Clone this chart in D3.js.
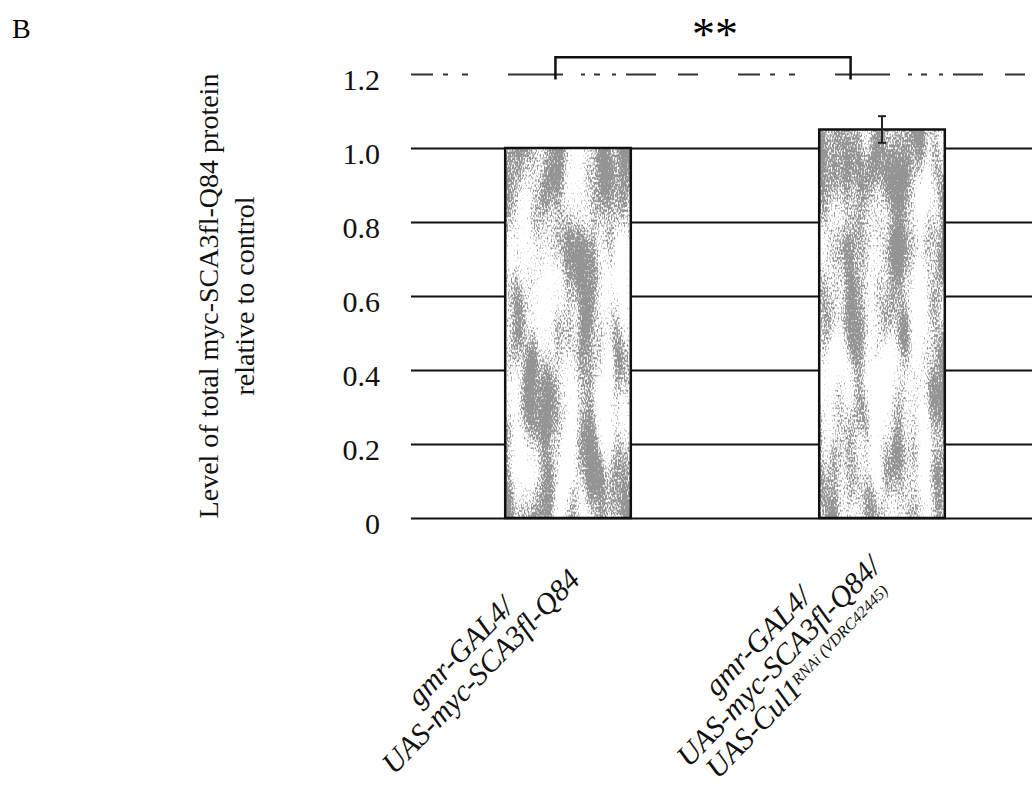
<!DOCTYPE html>
<html>
<head>
<meta charset="utf-8">
<script src="https://cdn.jsdelivr.net/npm/d3@7"></script>
<style>
  body { margin: 0; background: #fff; }
  svg { display: block; font-family: "Liberation Serif", "DejaVu Serif", serif; }
</style>
</head>
<body>
<svg id="chart" width="1032" height="805"></svg>
<script>
// --- Data ---
const categories = ["control", "cul1RNAi"];
const values = [1.0, 1.05];
const errors = [0, 0.036];
const yTicks = [0, 0.2, 0.4, 0.6, 0.8, 1.0, 1.2];
const labelLines = [
    ["gmr-GAL4/", "UAS-myc-SCA3fl-Q84"],
    ["gmr-GAL4/", "UAS-myc-SCA3fl-Q84/", "UAS-Cul1"]
];
const labelSupers = [
    [null, null],
    [null, null, "RNAi (VDRC42445)"]
];
const yTitle = ["Level of total myc-SCA3fl-Q84 protein", "relative to control"];
const sigPair = ["control", "cul1RNAi"];
const sigText = "**";

// --- Layout ---
const svg = d3.select("#chart");
const plotLeft = 411, plotRight = 1039;
const y = d3.scaleLinear().domain([0, 1.2]).range([518, 74]);
const x = d3.scaleBand().domain(categories).range([plotLeft, plotRight])
    .paddingInner(0.6).paddingOuter(0.3);

// speckled grey fill (scanned look)
const defs = svg.append("defs");
const f = defs.append("filter").attr("id", "speckle")
    .attr("x", 0).attr("y", 0).attr("width", "100%").attr("height", "100%")
    .attr("color-interpolation-filters", "sRGB");
f.append("feTurbulence").attr("type", "fractalNoise").attr("baseFrequency", "0.045 0.009")
    .attr("numOctaves", 2).attr("seed", 11).attr("result", "coarse");
f.append("feTurbulence").attr("type", "fractalNoise").attr("baseFrequency", "0.7 0.4")
    .attr("numOctaves", 1).attr("seed", 3).attr("result", "fine");
f.append("feComposite").attr("in", "coarse").attr("in2", "fine").attr("operator", "arithmetic")
    .attr("k1", 0).attr("k2", 0.7).attr("k3", 0.5).attr("k4", 0).attr("result", "mix");
f.append("feColorMatrix").attr("in", "mix").attr("type", "matrix")
    .attr("values", "0 0 0 0 0.58  0 0 0 0 0.58  0 0 0 0 0.58  0 0 0 -9 5.6");
f.append("feComposite").attr("in2", "SourceGraphic").attr("operator", "in");

// Panel letter
svg.append("text").attr("x", 12).attr("y", 38).style("font-size", "28px").text("B");

// Grid
const grid = svg.append("g").attr("transform", `translate(${plotLeft},0)`)
    .call(d3.axisLeft(y).tickValues(yTicks).tickSize(-(1032 - plotLeft)).tickFormat(""));
grid.select(".domain").remove();
grid.selectAll(".tick line").attr("stroke", "#111").attr("stroke-width", 2);
grid.selectAll(".tick").filter(d => d === 1.2).select("line")
    .attr("stroke", "#333").attr("stroke-width", 2)
    .attr("stroke-dasharray", "22,10,5,14,6,40,55,18,4,9,6,12,4,10,30,22,20,40");

// Tick labels
const yAxis = svg.append("g").attr("transform", `translate(${plotLeft},0)`)
    .call(d3.axisLeft(y).tickValues(yTicks).tickSize(0).tickPadding(31)
        .tickFormat(d => d === 0 ? "0" : d.toFixed(1)));
yAxis.select(".domain").remove();
yAxis.selectAll("text").style("font-size", "30px").style("font-family", "Liberation Serif, serif")
    .attr("fill", "#111").attr("dy", "0.5em");

// Y title
const yt = svg.append("text").attr("transform", "translate(218,296) rotate(-90)")
    .attr("text-anchor", "middle").style("font-size", "28px").attr("fill", "#111");
yt.selectAll("tspan").data(yTitle).enter().append("tspan")
    .attr("x", 0).attr("dy", (d, i) => i === 0 ? 0 : 36).text(d => d);

// Bars
const bars = svg.append("g");
bars.selectAll(".bg").data(categories).enter().append("rect")
    .attr("x", d => x(d)).attr("y", (d, i) => y(values[i]))
    .attr("width", x.bandwidth()).attr("height", (d, i) => y(0) - y(values[i]))
    .attr("fill", "#fff");
bars.selectAll(".sp").data(categories).enter().append("rect")
    .attr("x", d => x(d)).attr("y", (d, i) => y(values[i]))
    .attr("width", x.bandwidth()).attr("height", (d, i) => y(0) - y(values[i]))
    .attr("fill", "#000").attr("filter", "url(#speckle)");
bars.selectAll(".ol").data(categories).enter().append("rect")
    .attr("x", d => x(d)).attr("y", (d, i) => y(values[i]))
    .attr("width", x.bandwidth()).attr("height", (d, i) => y(0) - y(values[i]))
    .attr("fill", "none").attr("stroke", "#111").attr("stroke-width", 2.5);

// Error bars
const eb = svg.append("g").attr("stroke", "#222").attr("stroke-width", 2);
categories.forEach((c, i) => {
    if (!errors[i]) return;
    const cx = x(c) + x.bandwidth() / 2;
    eb.append("line").attr("x1", cx).attr("x2", cx)
        .attr("y1", y(values[i] - errors[i])).attr("y2", y(values[i] + errors[i]));
    [values[i] - errors[i], values[i] + errors[i]].forEach(v => {
        eb.append("line").attr("x1", cx - 4).attr("x2", cx + 4).attr("y1", y(v)).attr("y2", y(v));
    });
});

// Significance bracket
const bx1 = x(sigPair[0]) + x.bandwidth() * 0.4;
const bx2 = x(sigPair[1]) + x.bandwidth() * 0.25;
svg.append("path")
    .attr("d", `M${bx1},${y(1.185)}V${y(1.245)}H${bx2}V${y(1.185)}`)
    .attr("fill", "none").attr("stroke", "#111").attr("stroke-width", 2.5);
svg.append("text").attr("x", (bx1 + bx2) / 2 + 12).attr("y", 50)
    .attr("text-anchor", "middle").style("font-size", "46px").text(sigText);

// Category labels
const lh = 29;
categories.forEach((c, i) => {
    const cx = x(c) + x.bandwidth() / 2;
    const g = svg.append("g")
        .attr("transform", `translate(${cx - 98 - i * 6},${y(0) + 143}) rotate(-46)`);
    const n = labelLines[i].length;
    labelLines[i].forEach((line, j) => {
        const t = g.append("text").attr("x", 0).attr("y", (j - (n - 1) / 2) * lh)
            .attr("dy", "0.35em").attr("text-anchor", "middle")
            .style("font-size", "30px").style("font-style", "italic").attr("fill", "#111");
        t.append("tspan").text(line);
        if (labelSupers[i][j]) {
            t.append("tspan").attr("baseline-shift", "super")
                .style("font-size", "16px").text(labelSupers[i][j]);
        }
    });
});
</script>
</body>
</html>
